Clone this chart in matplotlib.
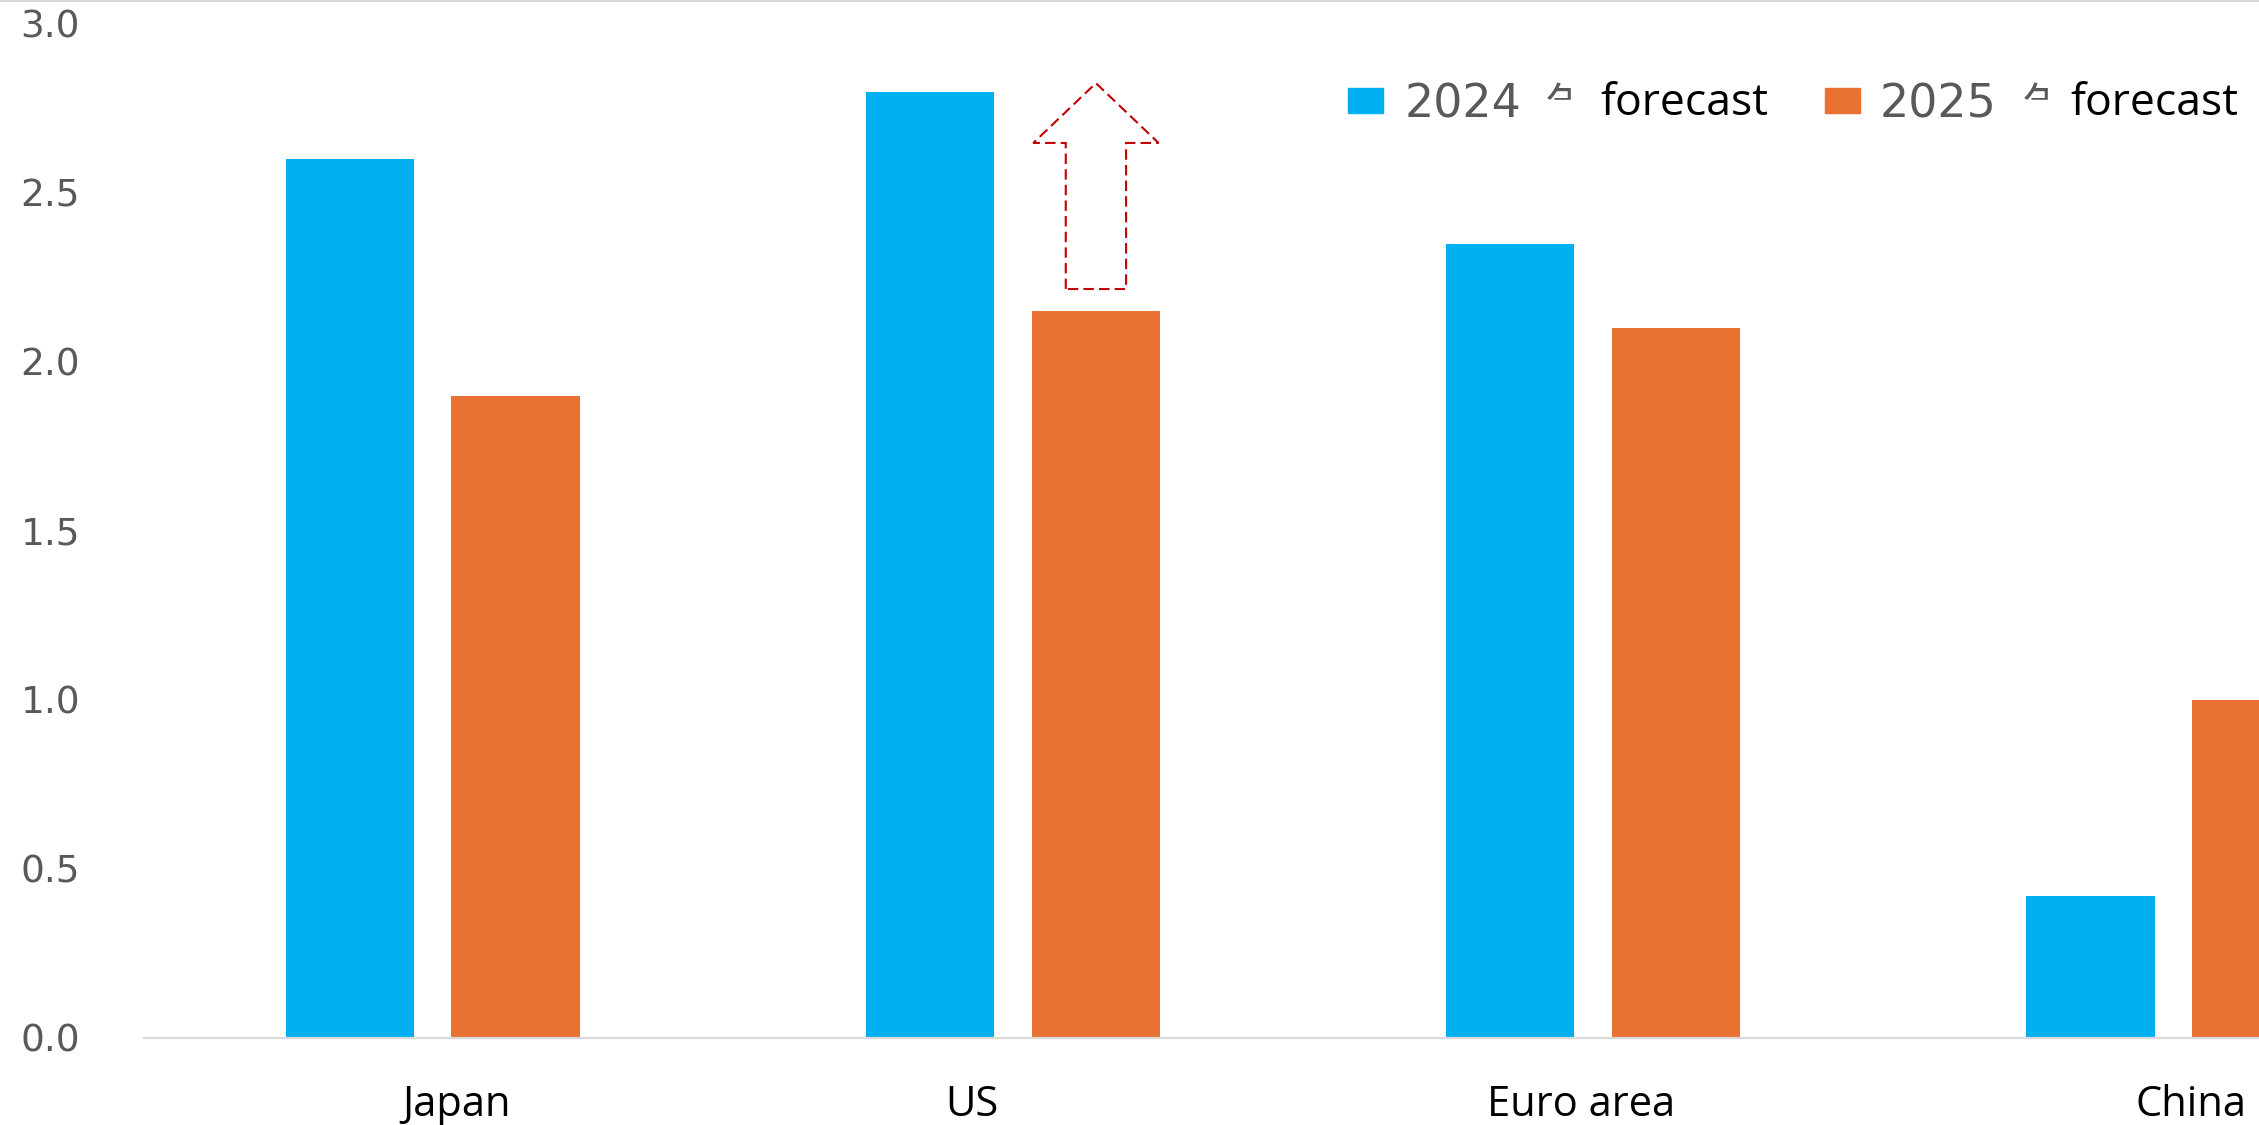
import matplotlib
matplotlib.use("Agg")
import numpy as np
import matplotlib.pyplot as plt
from matplotlib.patches import Polygon, Rectangle

# values
regions = ["Japan", "US", "Euro area", "China"]
gdp_2024 = [2.6, 2.8, 2.35, 0.42]
gdp_2025 = [1.9, 2.15, 2.1, 1.0]
yticks = [0.0, 0.5, 1.0, 1.5, 2.0, 2.5, 3.0]
legend_years = ["2024", "2025"]

BLUE = "#00b0f0"
ORANGE = "#e97132"
GREY = "#595959"

W, H = 2259, 1125
fig = plt.figure(figsize=(W / 100, H / 100), dpi=100)
ax = fig.add_axes([144 / W, (H - 1038) / H, 1 - 144 / W, 1038 / H])

x = np.arange(len(regions))
bw = 0.222
off = 0.143
ax.bar(x - off, gdp_2024, width=bw, color=BLUE, zorder=2)
ax.bar(x + off, gdp_2025, width=bw, color=ORANGE, zorder=2)

ax.set_xlim(-0.498, 3.148)
ax.set_ylim(0, 3.071)

# category labels sit a little off the group centres in the original
label_shift = [0.04, -0.07, -0.02, 0.03]
ax.set_xticks(x + np.array(label_shift))
ax.set_xticklabels(regions, fontsize=30, family="Open Sans", color="black")
ax.set_yticks(yticks)
ax.set_yticklabels([f"{v:.1f}" for v in yticks], fontsize=27, color=GREY,
                   family="DejaVu Sans")
ax.tick_params(axis="x", length=0, pad=33)
ax.tick_params(axis="y", length=0, pad=46)

for s in ["top", "right", "left"]:
    ax.spines[s].set_visible(False)
ax.spines["bottom"].set_color("#d9d9d9")
ax.spines["bottom"].set_linewidth(1.6)

# dashed block arrow over the US 2025 bar, pointing up to the 2024 level
ux = 1 + off
base = gdp_2025[1] + 0.066
tip = gdp_2024[1] + 0.025
head = tip - 0.177
sw, hw = 0.052, 0.108
arrow = Polygon([(ux - sw, base), (ux - sw, head), (ux - hw, head), (ux, tip),
                 (ux + hw, head), (ux + sw, head), (ux + sw, base)],
                closed=True, fill=False, edgecolor="#c00000", linewidth=1.5,
                linestyle=(0, (5, 2.5)), zorder=3)
ax.add_patch(arrow)

# top border line
fig.add_artist(plt.Line2D([0, 1], [1 - 1 / H, 1 - 1 / H], color="#d9d9d9",
                          linewidth=1.5, transform=fig.transFigure))

# hand-built legend (grey year + black "forecast")
def fx(px):
    return px / W

def fy(py):
    return 1 - py / H

legend_items = [(legend_years[0], BLUE, 1348, 1405, 1545, 1600),
                (legend_years[1], ORANGE, 1825, 1880, 2022, 2070)]
for year, col, sq_x, yr_x, kanji_x, fc_x in legend_items:
    fig.add_artist(Rectangle((fx(sq_x), fy(113)), 35 / W, 25 / H, color=col,
                             transform=fig.transFigure))
    fig.text(fx(yr_x), fy(117), year, fontsize=33, color=GREY,
             family="DejaVu Sans", va="baseline")
    fig.text(fx(kanji_x), fy(120), "年", fontsize=32, color=GREY,
             family="Noto Sans CJK JP", va="baseline")
    # mask over most of the CJK glyph, as in the original
    fig.add_artist(Rectangle((fx(kanji_x + 26), fy(130)), 40 / W, 60 / H,
                             color="white", transform=fig.transFigure, zorder=5))
    fig.add_artist(Rectangle((fx(kanji_x - 4), fy(130)), 32 / W, 30 / H,
                             color="white", transform=fig.transFigure, zorder=5))
    fig.text(fx(fc_x), fy(115), "forecast", fontsize=32, color="black",
             family="Open Sans", va="baseline", zorder=6)

fig.savefig("out.png", dpi=100, facecolor="white")
